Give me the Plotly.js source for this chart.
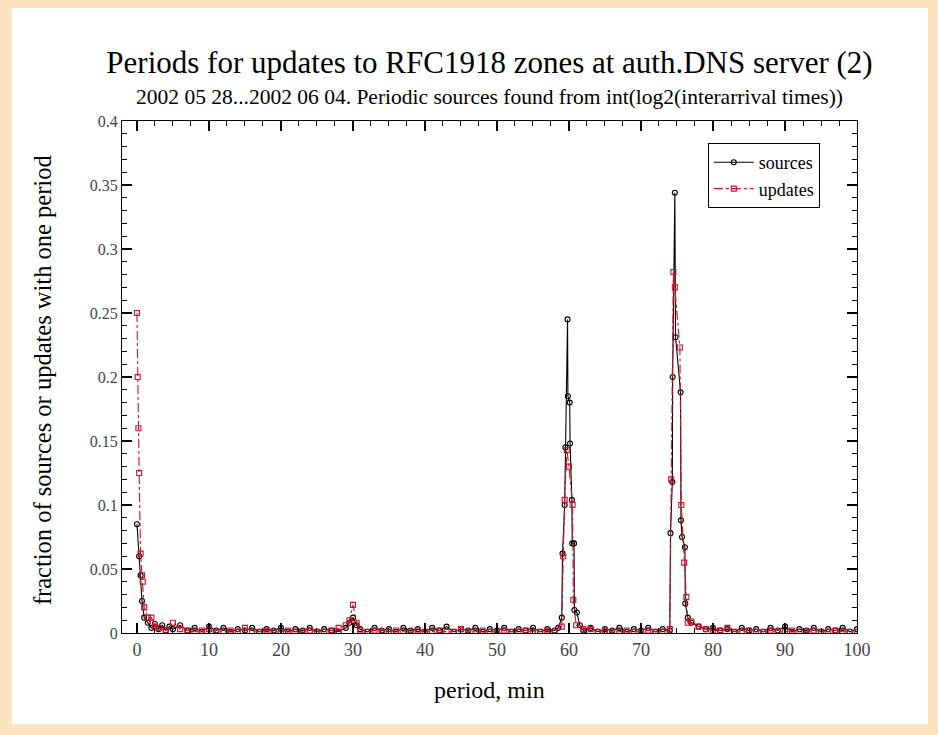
<!DOCTYPE html>
<html>
<head>
<meta charset="utf-8">
<script src="https://cdn.plot.ly/plotly-3.0.1.min.js"></script>
<style>
  html, body { margin: 0; padding: 0; background: #FCE4C2; width: 938px; height: 735px; overflow: hidden; }
  #chart { position: absolute; left: 12px; top: 8px; width: 916px; height: 716px; background: #ffffff; }
</style>
</head>
<body>
<div id="chart"></div>
<script>
// ---- data ----
const seriesNames = ["sources", "updates"];

const sourcesX = [0, 0.3, 0.5, 0.7, 1, 1.5, 2, 2.5, 3, 3.5, 4, 4.5, 5, 6, 7, 8, 9, 10, 11, 12, 13, 14, 15, 16, 17, 18, 19, 20,
  21, 22, 23, 24, 25, 26, 27, 28, 29, 29.5, 30, 30.5, 31, 32, 33, 34, 35, 36, 37, 38, 39, 40, 41, 42, 43, 44, 45, 46, 47, 48, 49, 50,
  51, 52, 53, 54, 55, 56, 57, 58, 58.5, 59, 59.1, 59.4, 59.5, 59.8, 59.85, 60.1, 60.15, 60.4, 60.45, 60.7, 60.75, 61.1, 61.5, 62,
  63, 64, 65, 66, 67, 68, 69, 70, 71, 72, 73, 74, 74.1, 74.35, 74.4, 74.7, 74.8, 75.5, 75.55, 75.7, 76.1, 76.15, 76.5, 77,
  78, 79, 80, 81, 82, 83, 84, 85, 86, 87, 88, 89, 90, 91, 92, 93, 94, 95, 96, 97, 98, 99, 100];
const sourcesY = [0.085, 0.06, 0.045, 0.025, 0.012, 0.008, 0.004, 0.007, 0.003, 0.006, 0.002, 0.005, 0.003, 0.006, 0.002, 0.004, 0.001, 0.005, 0.002, 0.004, 0.001, 0.003, 0.002, 0.004, 0.001, 0.003, 0.002, 0.004,
  0.001, 0.003, 0.002, 0.004, 0.001, 0.003, 0.002, 0.001, 0.004, 0.008, 0.012, 0.006, 0.003, 0.001, 0.004, 0.002, 0.003, 0.001, 0.004, 0.002, 0.003, 0.001, 0.004, 0.002, 0.005, 0.001, 0.003, 0.002, 0.004, 0.001, 0.003, 0.002,
  0.004, 0.001, 0.003, 0.002, 0.004, 0.001, 0.003, 0.002, 0.004, 0.012, 0.062, 0.1, 0.145, 0.245, 0.185, 0.18, 0.148, 0.104, 0.07, 0.07, 0.018, 0.016, 0.006, 0.002,
  0.004, 0.001, 0.003, 0.002, 0.004, 0.001, 0.003, 0.002, 0.004, 0.001, 0.003, 0.002, 0.078, 0.118, 0.2, 0.344, 0.231, 0.188, 0.088, 0.075, 0.067, 0.023, 0.012, 0.008,
  0.005, 0.003, 0.004, 0.002, 0.003, 0.001, 0.004, 0.002, 0.003, 0.001, 0.004, 0.002, 0.005, 0.001, 0.003, 0.002, 0.004, 0.001, 0.003, 0.002, 0.004, 0.001, 0.003];

const updatesX = [0, 0.1, 0.2, 0.3, 0.5, 0.7, 0.8, 1, 1.5, 2, 2.5, 3, 4, 5, 6, 7, 8, 9, 10, 11, 12, 13, 14, 15, 16, 17, 18, 19, 20,
  21, 22, 23, 24, 25, 26, 27, 28, 29, 29.5, 30, 30.5, 31, 32, 33, 34, 35, 36, 37, 38, 39, 40, 41, 42, 43, 44, 45, 46, 47, 48, 49, 50,
  51, 52, 53, 54, 55, 56, 57, 58, 59, 59.2, 59.4, 59.7, 60, 60.5, 60.6, 61, 62, 63, 64, 65, 66, 67, 68, 69, 70, 71, 72, 73,
  74, 74.2, 74.5, 74.7, 75.4, 75.6, 76, 76.3, 76.5, 77, 78, 79, 80, 81, 82, 83, 84, 85, 86, 87, 88, 89, 90, 91, 92, 93, 94, 95, 96, 97, 98, 99, 100];
const updatesY = [0.25, 0.2, 0.16, 0.125, 0.062, 0.045, 0.04, 0.02, 0.012, 0.012, 0.005, 0.004, 0.002, 0.008, 0.003, 0.002, 0.001, 0.002, 0.003, 0.001, 0.001, 0.002, 0.001, 0.004, 0.001, 0.001, 0.002, 0.001, 0.001,
  0.002, 0.001, 0.001, 0.002, 0.001, 0.001, 0.002, 0.004, 0.006, 0.01, 0.022, 0.008, 0.002, 0.001, 0.002, 0.001, 0.001, 0.002, 0.001, 0.001, 0.002, 0.001, 0.001, 0.002, 0.001, 0.001, 0.003, 0.001, 0.001, 0.002, 0.001, 0.001,
  0.002, 0.001, 0.001, 0.002, 0.001, 0.001, 0.002, 0.001, 0.005, 0.06, 0.104, 0.143, 0.13, 0.1, 0.026, 0.006, 0.003, 0.003, 0.001, 0.002, 0.001, 0.001, 0.002, 0.001, 0.001, 0.002, 0.001, 0.001,
  0.003, 0.12, 0.282, 0.27, 0.223, 0.1, 0.055, 0.028, 0.008, 0.009, 0.005, 0.003, 0.002, 0.002, 0.004, 0.001, 0.001, 0.002, 0.001, 0.001, 0.002, 0.001, 0.001, 0.002, 0.001, 0.001, 0.002, 0.001, 0.001, 0.002, 0.001, 0.001, 0.001];

const xTickVals = [0, 10, 20, 30, 40, 50, 60, 70, 80, 90, 100];
const yTickVals = [0, 0.05, 0.1, 0.15, 0.2, 0.25, 0.3, 0.35, 0.4];

const titleText = "Periods for updates to RFC1918 zones at auth.DNS server (2)";
const subtitleText = "2002 05 28...2002 06 04. Periodic sources found from int(log2(interarrival times))";
const xTitleText = "period, min";
const yTitleText = "fraction of sources or updates with one period";

// ---- styling ----
const serif = "Liberation Serif, Times New Roman, serif";
const red = "#d0102a";

const traces = [
  {
    x: sourcesX, y: sourcesY, name: seriesNames[0], type: "scatter", mode: "lines+markers",
    line: { color: "#000000", width: 1.1 },
    marker: { symbol: "circle-open", size: 5, color: "#000000", line: { width: 1.1 } }
  },
  {
    x: updatesX, y: updatesY, name: seriesNames[1], type: "scatter", mode: "lines+markers",
    line: { color: red, width: 1.1, dash: "dashdot" },
    marker: { symbol: "square-open", size: 5, color: red, line: { width: 1.1 } }
  }
];

const axisCommon = {
  showline: true, linecolor: "#000000", linewidth: 1, mirror: "ticks",
  ticks: "inside", ticklen: 10, tickwidth: 1.2, tickcolor: "#000000",
  showgrid: false, zeroline: false,
  tickfont: { family: serif, size: 16, color: "#444444" }
};

const layout = {
  width: 916, height: 716,
  margin: { l: 110, r: 71, t: 113, b: 91 },
  paper_bgcolor: "#ffffff", plot_bgcolor: "#ffffff",
  showlegend: true,
  title: {
    text: titleText, font: { family: serif, size: 31, color: "#000000" },
    xref: "paper", x: 0.5, xanchor: "center", yref: "container", y: 1 - 54 / 716, yanchor: "middle"
  },
  xaxis: Object.assign({}, axisCommon, {
    range: [-2.08, 100], tickmode: "array", tickvals: xTickVals,
    tickfont: { family: serif, size: 18, color: "#444444" },
    minor: { dtick: 2.5, ticks: "inside", ticklen: 5, tickcolor: "#000000", tickwidth: 1 }
  }),
  yaxis: Object.assign({}, axisCommon, {
    range: [0, 0.4], tickmode: "array", tickvals: yTickVals,
    minor: { dtick: 0.01, ticks: "inside", ticklen: 5, tickcolor: "#000000", tickwidth: 1 }
  }),
  legend: {
    x: 0.797, y: 0.957, xanchor: "left", yanchor: "top",
    bgcolor: "#ffffff", bordercolor: "#000000", borderwidth: 1,
    font: { family: serif, size: 18, color: "#000000" },
    tracegroupgap: 0, itemwidth: 40
  },
  annotations: [
    { text: subtitleText, xref: "paper", yref: "paper", x: 0.5, y: (625 - 89) / 512, xanchor: "center", yanchor: "middle",
      showarrow: false, font: { family: serif, size: 21.5, color: "#000000" } },
    { text: xTitleText, xref: "paper", yref: "paper", x: 0.5, y: (625 - 682) / 512, xanchor: "center", yanchor: "middle",
      showarrow: false, font: { family: serif, size: 24, color: "#000000" } },
    { text: yTitleText, xref: "paper", yref: "paper", x: (30 - 110) / 735, y: 0.494, xanchor: "center", yanchor: "middle",
      textangle: -90, showarrow: false, font: { family: serif, size: 24.5, color: "#000000" } }
  ]
};

Plotly.newPlot("chart", traces, layout, { staticPlot: true, displayModeBar: false });
</script>
</body>
</html>
